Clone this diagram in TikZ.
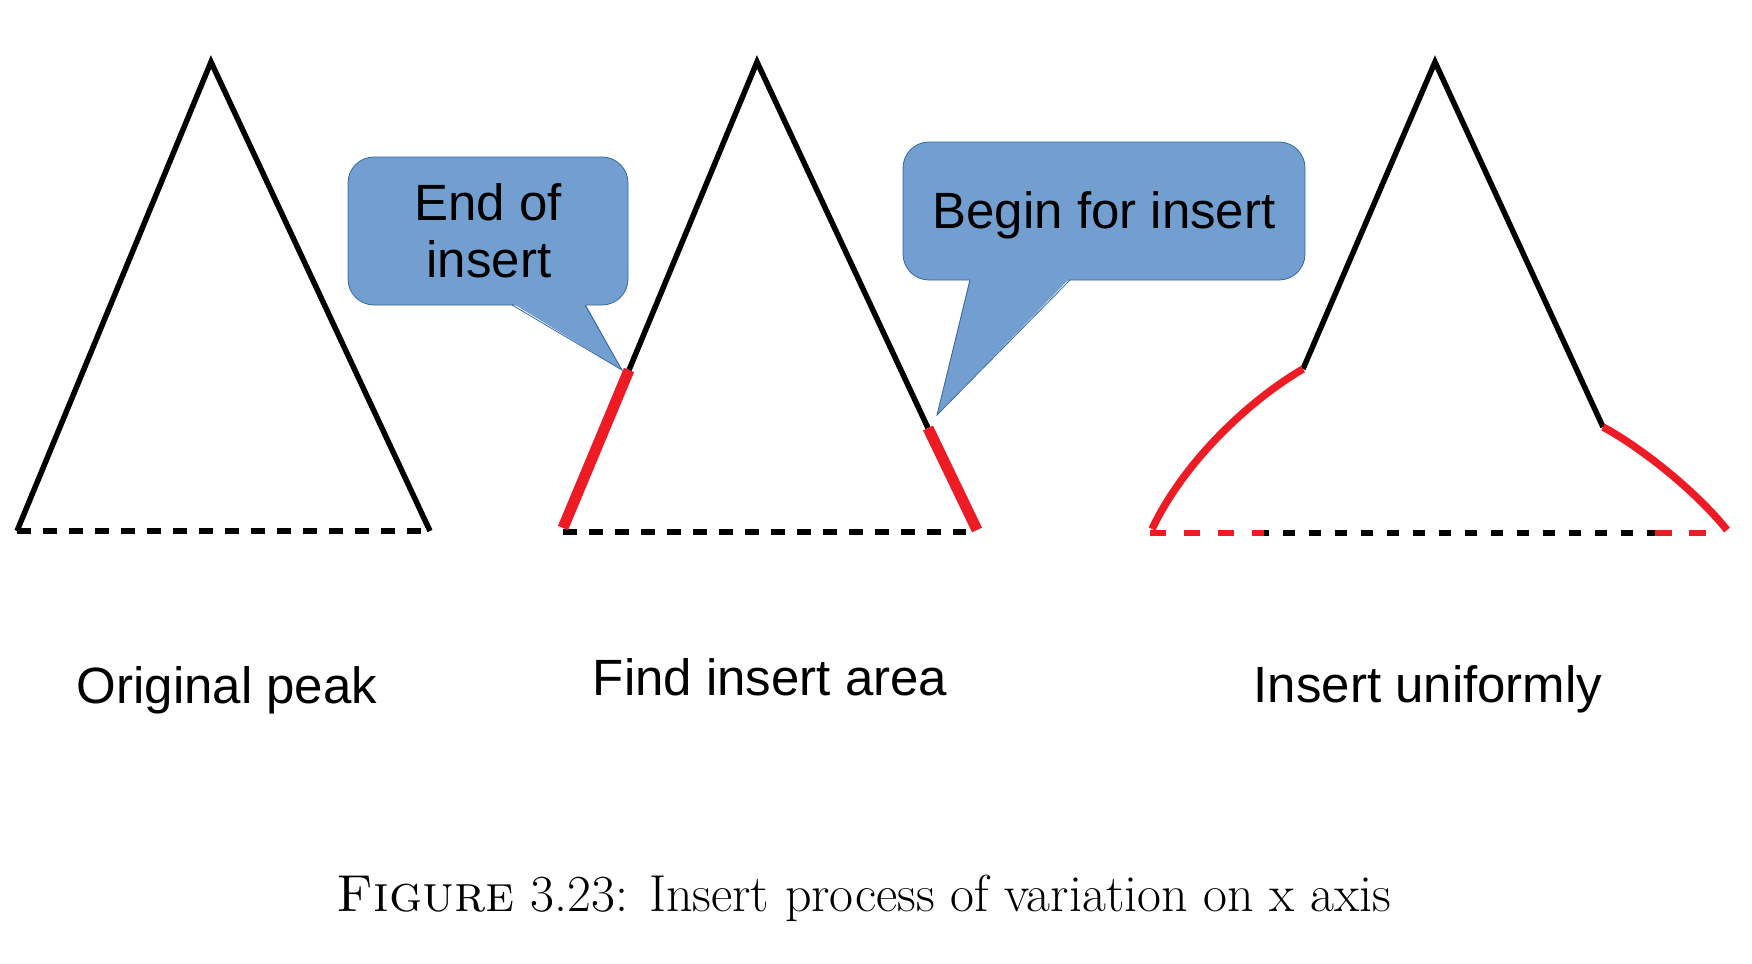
\documentclass[tikz,border=0pt]{standalone}
\usepackage{fontspec}
\newfontfamily\arialf{Liberation Sans}
\definecolor{insred}{RGB}{237,28,36}
\definecolor{calloutblue}{RGB}{114,159,207}
\definecolor{calloutedge}{RGB}{52,101,164}
\begin{document}
\begin{tikzpicture}[x=1pt,y=-1pt,
  peak/.style={line width=5.5pt, draw=black, line join=miter},
  redseg/.style={line width=11pt, draw=insred},
  redcurve/.style={line width=7.5pt, draw=insred, line join=round},
  basedash/.style={line width=5.5pt, draw=black, dash pattern=on 14pt off 12pt},
  reddash/.style={line width=6pt, draw=insred, dash pattern=on 16pt off 18pt},
  calloutbox/.style={fill=calloutblue, draw=calloutedge, line width=0.8pt, rounded corners=26pt, inner sep=0pt, rectangle},
  pointerfill/.style={fill=calloutblue},
  pointeredge/.style={draw=calloutedge, line width=0.8pt},
  lbl/.style={font=\arialf\fontsize{51}{57}\selectfont, anchor=base, inner sep=0pt},
  captionstyle/.style={font=\fontsize{52}{58}\selectfont, anchor=base, inner sep=0pt}]
\useasboundingbox (0,0) rectangle (1752,963);

% ---------- triangle 1: original peak ----------
\coordinate (t1a) at (211,62);
\coordinate (t1l) at (17,531);
\coordinate (t1r) at (430,531);
\draw[peak] (t1l) -- (t1a) -- (t1r);
\draw[basedash] (t1l) -- (t1r);

% ---------- triangle 2: find insert area ----------
\coordinate (t2a) at (757,62);
\coordinate (t2l) at (563,528);
\coordinate (t2r) at (977,530);
\coordinate (t2jl) at (629,370);
\coordinate (t2jr) at (928,428);
\coordinate (t2bl) at (563,532);
\coordinate (t2br) at (966,532);
\draw[basedash] (t2bl) -- (t2br);
\draw[peak] (t2jl) -- (t2a) -- (t2jr);
\draw[redseg] (t2l) -- (t2jl);
\draw[redseg] (t2jr) -- (t2r);

% ---------- triangle 3: insert uniformly ----------
\coordinate (t3a) at (1435,62);
\coordinate (t3jl) at (1303,369);
\coordinate (t3jr) at (1603,427);
\coordinate (t3l) at (1152,529);
\coordinate (t3r) at (1727,530);
\coordinate (t3bl) at (1150,533);
\coordinate (t3ml) at (1264,533);
\coordinate (t3mr) at (1655,533);
\coordinate (t3br) at (1708,533);
\draw[peak] (t3jl) -- (t3a) -- (t3jr);
\draw[basedash, dash pattern=on 12pt off 14pt, dash phase=7pt] (t3ml) -- (t3mr);
\draw[reddash] (t3bl) -- (t3ml);
\draw[reddash, dash pattern=on 17pt off 17pt] (t3mr) -- (t3br);
\draw[redcurve] (t3jl) .. controls (1250,400) and (1185,460) .. (t3l);
\draw[redcurve] (t3jr) .. controls (1640,447) and (1695,490) .. (t3r);

% ---------- callout 1 ----------
\node[calloutbox, minimum width=280pt, minimum height=148pt] (c1) at (488,231) {};
\coordinate (c1p1) at (512,303);
\coordinate (c1p2) at (585,303);
\coordinate (c1tip) at (622,370);
\fill[pointerfill] (c1p1) -- (c1tip) -- (c1p2) -- cycle;
\draw[pointeredge] ([yshift=-2pt]c1p1) -- (c1tip) -- ([yshift=-2pt]c1p2);
\node[lbl] (c1t1) at (488,220) {End of};
\node[lbl] (c1t2) at (489,277) {insert};

% ---------- callout 2 ----------
\node[calloutbox, minimum width=402pt, minimum height=138pt] (c2) at (1104,211) {};
\coordinate (c2p1) at (970,278);
\coordinate (c2p2) at (1070,278);
\coordinate (c2tip) at (937,415);
\fill[pointerfill] (c2p1) -- (c2tip) -- (c2p2) -- cycle;
\draw[pointeredge] ([yshift=-2pt]c2p1) -- (c2tip) -- ([yshift=-2pt]c2p2);
\node[lbl] (c2t) at (1104,228) {Begin for insert};

% ---------- labels ----------
\node[lbl] (l1) at (227,703) {Original peak};
\node[lbl] (l2) at (770,695) {Find insert area};
\node[lbl] (l3) at (1428,702) {Insert uniformly};

% ---------- caption ----------
\node[captionstyle] (capt) at (864,911) {\textsc{Figure} 3.23: Insert process of variation on x axis};
\end{tikzpicture}
\end{document}
